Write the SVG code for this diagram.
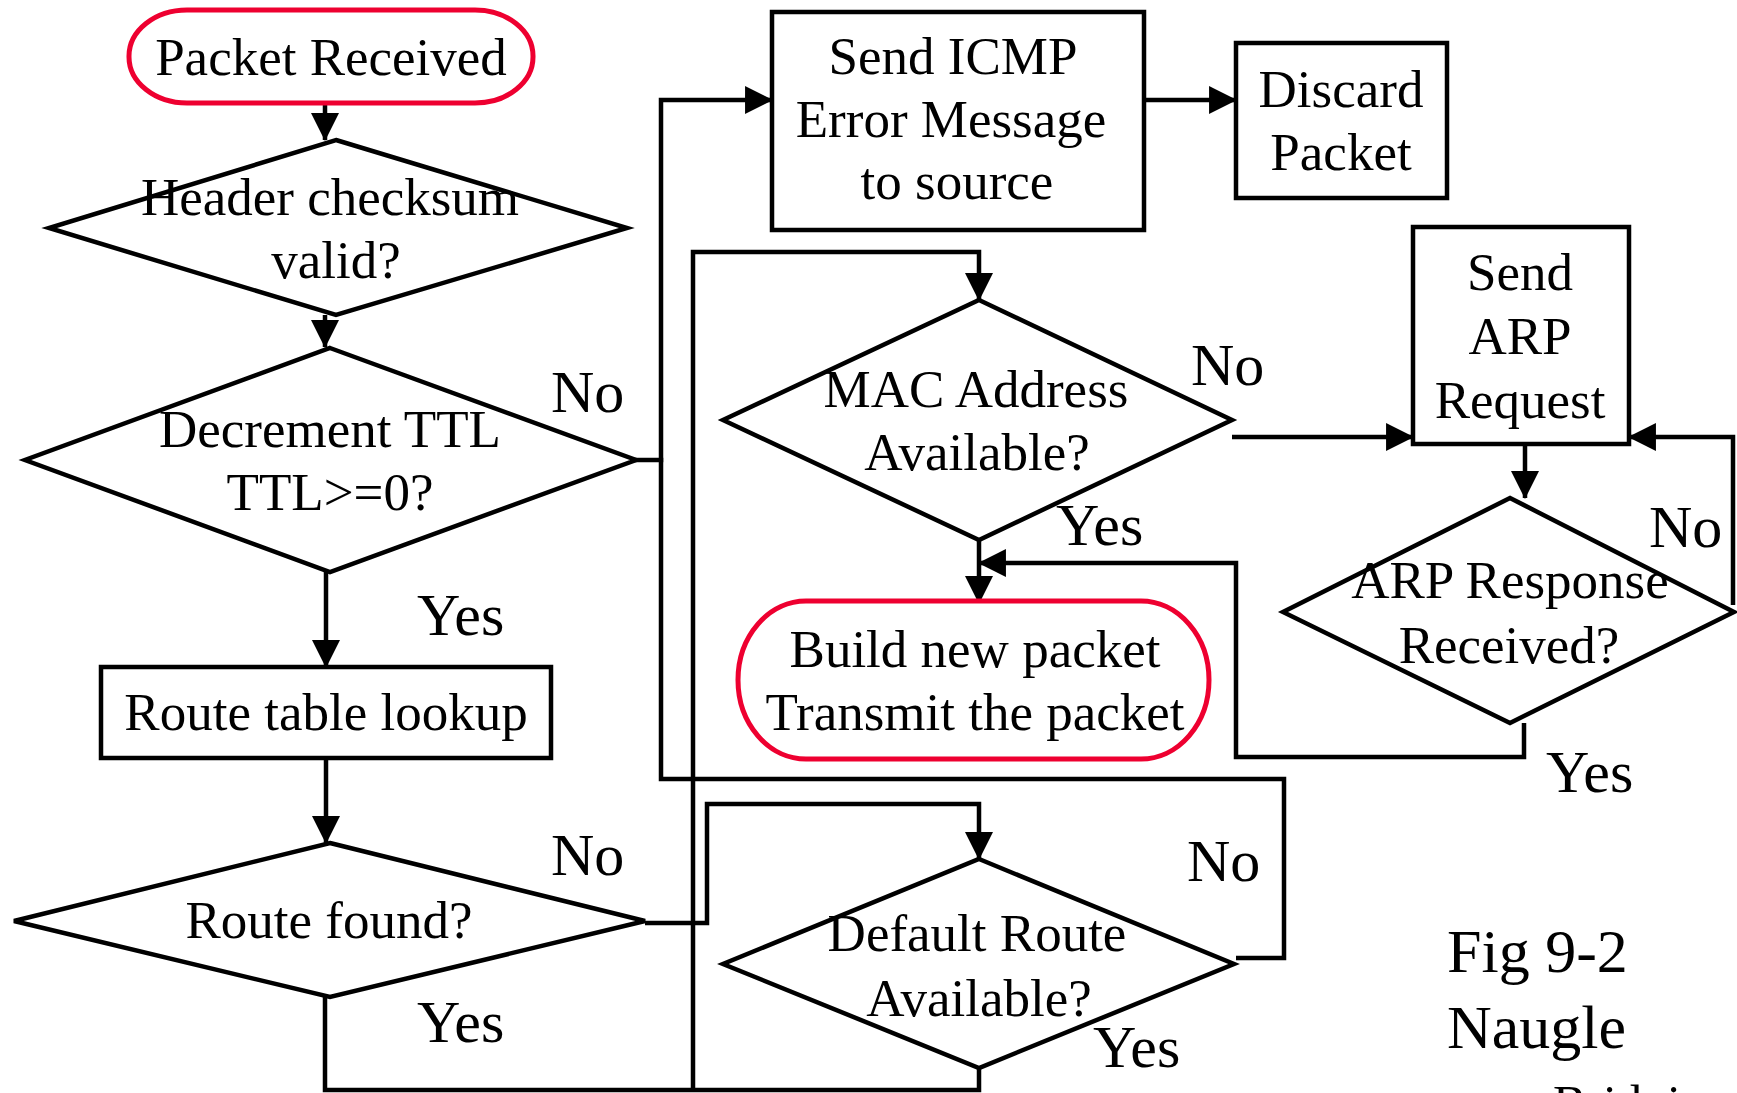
<svg xmlns="http://www.w3.org/2000/svg" width="1737" height="1093" viewBox="0 0 1737 1093">
<defs>
<style>
.shape{fill:#fff;stroke:#000;stroke-width:4.5;stroke-linejoin:miter}
.term{fill:#fff;stroke:#ee0030;stroke-width:5}
.t{font-family:"Liberation Serif","Times New Roman",serif;font-size:53px;fill:#000;text-anchor:middle}
.lbl{font-family:"Liberation Serif","Times New Roman",serif;font-size:60px;fill:#000}
.cap{font-family:"Liberation Serif","Times New Roman",serif;font-size:62px;fill:#000}
.c{fill:none;stroke:#000;stroke-width:4.5;stroke-linejoin:miter;stroke-linecap:square}
.ca{fill:none;stroke:#000;stroke-width:4.5;stroke-linejoin:miter;marker-end:url(#ah)}
</style>
<marker id="ah" markerUnits="userSpaceOnUse" markerWidth="28" markerHeight="28" viewBox="0 0 27 27" refX="26" refY="13.5" orient="auto">
<path d="M0,0 L27,13.5 L0,27 z" fill="#000"/>
</marker>
</defs>
<rect width="1737" height="1093" fill="#fff"/>

<g id="connectors">
<path class="ca" d="M325,103 V140"/>
<path class="ca" d="M325,315 V347"/>
<path class="ca" d="M326,572 V667"/>
<path class="ca" d="M326,758 V843"/>
<path class="c" d="M636,460 H661"/>
<path class="ca" d="M1236,958 H1284 V779 H661 V100 H772"/>
<path class="ca" d="M1144,100 H1236"/>
<path class="ca" d="M645,923 H707 V804 H979 V859"/>
<path class="c" d="M325,997 V1090 H979 V1068"/>
<path class="ca" d="M693,1090 V252 H979 V300"/>
<path class="ca" d="M1232,437 H1413"/>
<path class="ca" d="M979,540 V603"/>
<path class="ca" d="M1525,445 V498"/>
<path class="ca" d="M1733,605 V437 H1629"/>
<path class="ca" d="M1524,723 V757 H1236 V563 H979"/>
</g>

<g id="packet-received">
<rect class="term" x="129" y="10" width="404" height="93" rx="58" ry="46"/>
<text class="t" x="331" y="75">Packet Received</text>
</g>

<g id="header-checksum">
<polygon class="shape" points="336,140 627,228 336,315 49,228"/>
<text class="t" x="330" y="215">Header checksum</text>
<text class="t" x="336" y="278">valid?</text>
</g>

<g id="decrement-ttl">
<polygon class="shape" points="330,348 636,460 330,572 25,460"/>
<text class="t" x="330" y="447">Decrement TTL</text>
<text class="t" x="330" y="510">TTL&gt;=0?</text>
</g>

<g id="route-table">
<rect class="shape" x="101" y="667" width="450" height="91"/>
<text class="t" x="326" y="730">Route table lookup</text>
</g>

<g id="route-found">
<polygon class="shape" points="330,843 645,921 330,997 14,921"/>
<text class="t" x="329" y="938">Route found?</text>
</g>

<g id="send-icmp">
<rect class="shape" x="772" y="12" width="372" height="218"/>
<text class="t" x="953" y="74">Send ICMP</text>
<text class="t" x="951" y="137">Error Message</text>
<text class="t" x="957" y="199">to source</text>
</g>

<g id="discard">
<rect class="shape" x="1236" y="43" width="211" height="155"/>
<text class="t" x="1341" y="107">Discard</text>
<text class="t" x="1341" y="170">Packet</text>
</g>

<g id="mac-available">
<polygon class="shape" points="979,300 1232,420 979,540 723,420"/>
<text class="t" x="976" y="407">MAC Address</text>
<text class="t" x="977" y="470">Available?</text>
</g>

<g id="send-arp">
<rect class="shape" x="1413" y="227" width="216" height="217"/>
<text class="t" x="1520" y="290">Send</text>
<text class="t" x="1520" y="354">ARP</text>
<text class="t" x="1520" y="418">Request</text>
</g>

<g id="arp-response">
<polygon class="shape" points="1510,498 1734,612 1510,723 1283,612"/>
<text class="t" x="1510" y="598">ARP Response</text>
<text class="t" x="1509" y="663">Received?</text>
</g>

<g id="build-packet">
<rect class="term" x="738" y="601" width="471" height="158" rx="68" ry="79"/>
<text class="t" x="975" y="667">Build new packet</text>
<text class="t" x="975" y="730">Transmit the packet</text>
</g>

<g id="default-route">
<polygon class="shape" points="979,859 1234,964 979,1068 723,964"/>
<text class="t" x="977" y="951">Default Route</text>
<text class="t" x="979" y="1016">Available?</text>
</g>

<g id="labels">
<text class="lbl" x="551" y="412">No</text>
<text class="lbl" x="417" y="635">Yes</text>
<text class="lbl" x="551" y="875">No</text>
<text class="lbl" x="417" y="1042">Yes</text>
<text class="lbl" x="1191" y="385">No</text>
<text class="lbl" x="1056" y="545">Yes</text>
<text class="lbl" x="1649" y="547">No</text>
<text class="lbl" x="1546" y="792">Yes</text>
<text class="lbl" x="1187" y="881">No</text>
<text class="lbl" x="1093" y="1067">Yes</text>
</g>

<g id="caption">
<text class="cap" x="1447" y="972">Fig 9-2</text>
<text class="cap" x="1447" y="1048">Naugle</text>
<text class="cap" x="1553" y="1120" style="font-size:50px">Bridging</text>
</g>
</svg>
